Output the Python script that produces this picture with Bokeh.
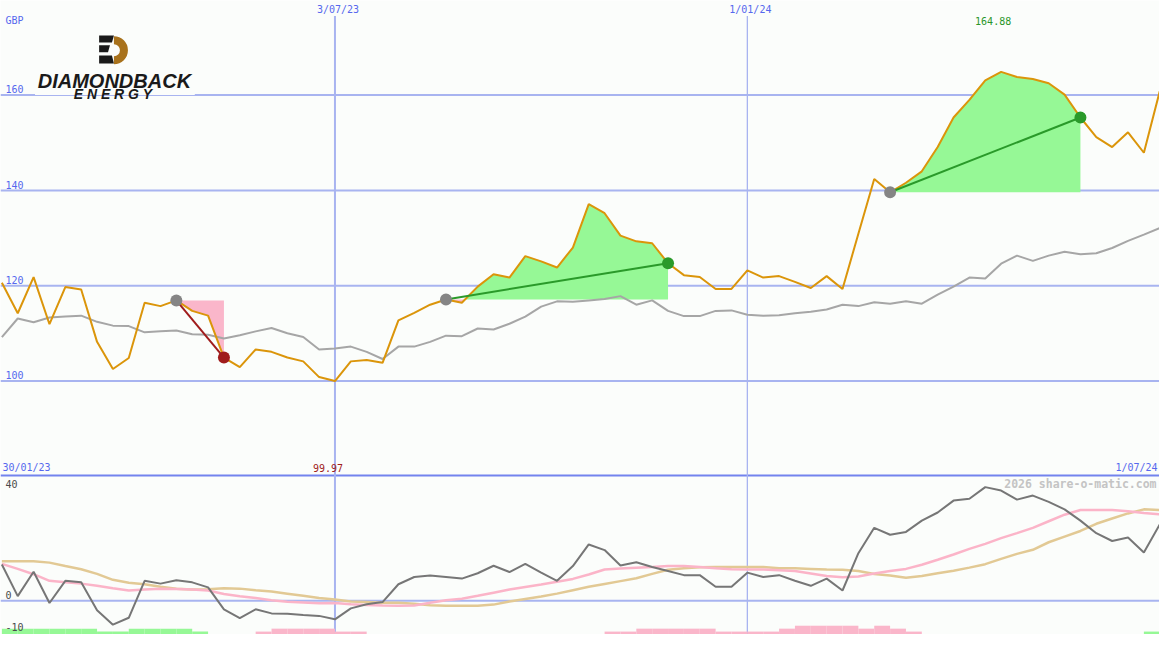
import numpy as np
from bokeh.plotting import figure
from bokeh.models import Range1d, Label, Span
from bokeh.embed import file_html
from bokeh.resources import INLINE

# ---------------- data ----------------
date_labels = ["30/01/23", "3/07/23", "1/01/24", "1/07/24"]
date_week = [-1, 21, 47, 73]          # week index of each date label
currency = "GBP"
price_ticks = [100, 120, 140, 160]
osc_ticks = [40, 0, -10]

price = [120.6, 114.2, 121.8, 111.9, 119.7, 119.2, 108.2, 102.5, 104.8, 116.4,
         115.7, 116.9, 114.7, 113.7, 104.9, 102.9, 106.6, 106.1, 104.9, 104.1,
         100.8, 99.97, 104.1, 104.4, 103.8, 112.7, 114.3, 116.0, 117.1, 116.4,
         119.8, 122.4, 121.7, 126.2, 125.1, 123.8, 128.0, 137.1, 135.2, 130.5,
         129.3, 128.9, 124.7, 122.2, 121.8, 119.3, 119.3, 123.2, 121.7, 122.0,
         120.8, 119.5, 122.0, 119.3, 130.9, 142.4, 139.6, 141.6, 144.0, 149.1,
         155.3, 159.0, 163.1, 164.88, 163.8, 163.4, 162.5, 160.1, 155.3, 151.2,
         149.1, 152.2, 147.9, 160.8]

avg = [109.2, 113.1, 112.3, 113.3, 113.5, 113.7, 112.4, 111.6, 111.5, 110.2,
       110.4, 110.6, 109.8, 109.7, 108.9, 109.6, 110.4, 111.1, 110.0, 109.2,
       106.6, 106.8, 107.2, 106.1, 104.6, 107.2, 107.2, 108.2, 109.5, 109.4,
       111.0, 110.8, 112.0, 113.5, 115.6, 116.7, 116.6, 116.9, 117.2, 117.8,
       116.0, 116.9, 114.7, 113.6, 113.6, 114.7, 114.8, 113.9, 113.7, 113.8,
       114.2, 114.5, 115.0, 116.0, 115.7, 116.5, 116.2, 116.7, 116.2, 118.1,
       119.8, 121.7, 121.5, 124.6, 126.3, 125.2, 126.3, 127.1, 126.6, 126.8,
       127.9, 129.4, 130.7, 132.1]

osc_fast = [11.6, 1.5, 9.3, -0.7, 6.4, 5.9, -3.0, -7.6, -5.4, 6.4,
            5.5, 6.6, 5.9, 4.3, -2.7, -5.5, -2.7, -4.0, -4.1, -4.5,
            -4.8, -5.9, -2.4, -1.1, -0.4, 5.3, 7.6, 8.1, 7.6, 7.1,
            8.8, 11.2, 9.2, 11.8, 9.0, 6.4, 11.1, 18.0, 16.2, 11.3,
            12.3, 10.8, 9.5, 8.2, 8.2, 4.5, 4.5, 9.0, 7.6, 8.2,
            6.4, 4.8, 7.1, 3.3, 15.2, 23.3, 21.1, 22.0, 25.6, 28.2,
            32.0, 32.6, 36.3, 35.2, 32.3, 33.6, 31.6, 29.2, 25.6, 21.6,
            19.1, 20.2, 15.4, 24.4]

osc_mid = [11.8, 10.2, 8.5, 6.4, 5.9, 5.5, 4.8, 4.0, 3.3, 3.6,
           3.9, 3.8, 3.6, 3.3, 2.2, 1.5, 0.9, 0.2, -0.3, -0.5,
           -0.8, -0.7, -1.1, -1.3, -1.5, -1.6, -1.5, -0.6, 0.2, 0.7,
           1.6, 2.6, 3.6, 4.4, 5.2, 6.1, 7.0, 8.4, 10.0, 10.3,
           10.6, 10.8, 11.1, 11.1, 10.8, 10.4, 10.1, 10.0, 10.0, 9.8,
           9.5, 8.7, 7.9, 7.5, 7.8, 8.7, 9.5, 10.2, 11.5, 13.1,
           14.8, 16.6, 18.2, 20.0, 21.6, 23.3, 25.4, 27.5, 29.0, 29.0,
           29.0, 28.6, 28.0, 27.6]

osc_slow = [12.6, 12.6, 12.6, 12.2, 11.1, 10.1, 8.6, 6.7, 5.8, 5.3,
            4.5, 3.9, 3.6, 3.7, 4.0, 3.9, 3.4, 3.0, 2.3, 1.6,
            0.9, 0.4, -0.2, -0.4, -0.6, -0.6, -0.9, -1.4, -1.6, -1.6,
            -1.6, -1.2, -0.2, 0.6, 1.4, 2.3, 3.4, 4.5, 5.4, 6.3,
            7.2, 8.6, 9.9, 10.4, 10.7, 10.8, 10.8, 10.8, 10.8, 10.4,
            10.4, 10.2, 10.0, 9.9, 9.5, 8.6, 8.1, 7.4, 7.9, 8.8,
            9.6, 10.6, 11.7, 13.4, 15.0, 16.3, 18.7, 20.5, 22.3, 24.6,
            26.3, 27.9, 29.2, 29.0]

signal = [2, 2, 2, 2, 2, 2, 1, 1, 2, 2,
          2, 2, 1, 0, 0, 0, -1, -2, -2, -2,
          -2, -1, -1, 0, 0, 0, 0, 0, 0, 0,
          0, 0, 0, 0, 0, 0, 0, 0, -1, -1,
          -2, -2, -2, -2, -2, -1, -1, -1, -1, -2,
          -3, -3, -3, -3, -2, -3, -2, -1, 0, 0,
          0, 0, 0, 0, 0, 0, 0, 0, 0, 0,
          0, 0, 1, 0]

trade_entry = [11, 28, 56]
trade_exit = [14, 42, 68]

# ---------------- layout / style ----------------
W, H = 1159, 634
PX0, PXSTEP = 1.4, 16.08          # reference pixel of week 0 and week spacing
PPX = 4.8833                       # reference pixels per price unit
OPX = 3.2125                       # reference pixels per oscillator unit
OSC_ZERO_PX = 615.5
REF_W, REF_H = 1175, 650


def dx(px):
    return (px - PX0) / PXSTEP


def dy(py):
    return 100 + (390 - py) / PPX


BG = "#fbfdfb"
GRID = "#a8b4f0"
SEP = "#7383ee"
BLUE_TXT = "#5668ee"
ORANGE = "#db950a"
AVG_C = "#a6a6a6"
FAST_C = "#767676"
MID_C = "#fbb4c8"
SLOW_C = "#e2c994"
GREEN_FILL = "#96f896"
PINK_FILL = "#fab6ca"
WIN_C = "#2a9a2a"
LOSS_C = "#a01c1c"
ENTRY_C = "#858585"
MONO = "DejaVu Sans Mono"

x_range = Range1d(dx(0), dx(REF_W))
y_range = Range1d(dy(REF_H), dy(0))

p = figure(width=W, height=H, x_range=x_range, y_range=y_range,
           output_backend="svg", toolbar_location=None,
           x_axis_location=None, y_axis_location=None, min_border=0,
           background_fill_color=BG, border_fill_color=BG,
           outline_line_color=None)
p.grid.visible = False
p.extra_y_ranges = {"osc": Range1d(-(REF_H - OSC_ZERO_PX) / OPX, OSC_ZERO_PX / OPX)}

# grid lines
for t in price_ticks:
    p.add_layout(Span(location=t, dimension="width", line_color=GRID,
                      line_width=2, level="underlay"))
p.add_layout(Span(location=0, dimension="width", line_color=GRID,
                  line_width=2, level="underlay", y_range_name="osc"))
p.add_layout(Span(location=osc_ticks[0], dimension="width", line_color=SEP,
                  line_width=2, level="underlay", y_range_name="osc"))

mid_dates = list(zip(date_labels, date_week))[1:-1]
for k, (d, w) in enumerate(mid_dates):
    p.segment(x0=w, y0=dy(16), x1=w, y1=dy(REF_H), line_color=GRID,
              line_width=2 if k == 0 else 1.3)

# trade fills
weeks = np.arange(len(price))
for e, x in zip(trade_entry, trade_exit):
    L = price[e]
    xs, ps = [], []
    for i in range(e, x + 1):
        if i > e:
            a, b = price[i - 1], price[i]
            if (a - L) * (b - L) < 0:
                t = (L - a) / (b - a)
                xs.append(i - 1 + t)
                ps.append(L)
        xs.append(i)
        ps.append(price[i])
    ps = np.array(ps)
    p.varea(x=xs, y1=[L] * len(xs), y2=np.maximum(ps, L), fill_color=GREEN_FILL)
    p.varea(x=xs, y1=np.minimum(ps, L), y2=[L] * len(xs), fill_color=PINK_FILL)

# price lines
p.line(weeks, avg, line_color=AVG_C, line_width=2)
p.line(weeks, price, line_color=ORANGE, line_width=2)

# trade lines and markers
for e, x in zip(trade_entry, trade_exit):
    c = WIN_C if price[x] > price[e] else LOSS_C
    p.line([e, x], [price[e], price[x]], line_color=c, line_width=2)
    p.scatter([e], [price[e]], size=12, fill_color=ENTRY_C, line_color=None)
    p.scatter([x], [price[x]], size=12, fill_color=c, line_color=None)

# oscillator
p.line(weeks, osc_slow, line_color=SLOW_C, line_width=2.5, y_range_name="osc")
p.line(weeks, osc_mid, line_color=MID_C, line_width=2.5, y_range_name="osc")
p.line(weeks, osc_fast, line_color=FAST_C, line_width=2, y_range_name="osc")

osc_bot = p.extra_y_ranges["osc"].start
unit = 3 / OPX
bl, br, bt, bc = [], [], [], []
for i, s in enumerate(signal):
    if s != 0:
        bl.append(i)
        br.append(i + 1)
        bt.append(osc_bot + abs(s) * unit)
        bc.append(GREEN_FILL if s > 0 else PINK_FILL)
p.quad(left=bl, right=br, bottom=osc_bot, top=bt, fill_color=bc,
       line_color=None, y_range_name="osc")

# logo
p.quad(left=dx(35), right=dx(197), bottom=dy(96.8), top=dy(33),
       fill_color=BG, line_color=None)
stripes = [[(100, 36), (115, 36), (113, 43), (100, 43)],
           [(100, 46), (111, 46), (109, 53), (100, 53)],
           [(100, 56.5), (113, 56.5), (115, 64.5), (100, 64.5)]]
p.patches(xs=[[dx(a) for a, b in s] for s in stripes],
          ys=[[dy(b) for a, b in s] for s in stripes],
          fill_color="#1a1a1a", line_color=None)
p.annular_wedge(x=dx(115), y=dy(51), inner_radius=6, outer_radius=14,
                inner_radius_units="screen", outer_radius_units="screen",
                start_angle=-np.pi / 2, end_angle=np.pi / 2,
                fill_color="#a8721c", line_color=None)
p.add_layout(Label(x=dx(115.5), y=dy(83), text="DIAMONDBACK",
                   text_font="Liberation Sans", text_font_style="bold italic",
                   text_font_size="20px", text_color="#1a1a1a",
                   text_align="center", text_baseline="alphabetic"))
p.add_layout(Label(x=dx(114), y=dy(96), text=" ".join("ENERGY"),
                   text_font="Liberation Sans", text_font_style="bold italic",
                   text_font_size="14px", text_color="#1a1a1a",
                   text_align="center", text_baseline="alphabetic"))


def lab(x, y, text, color=BLUE_TXT, align="left", size="10px", style="normal",
        font=MONO, **kw):
    p.add_layout(Label(x=x, y=y, text=text, text_font=font,
                       text_font_size=size, text_color=color,
                       text_font_style=style, text_align=align,
                       text_baseline="middle", **kw))


# axis texts
lab(dx(5), dy(21), currency)
for t in price_ticks:
    lab(dx(5), t + 6 / PPX, str(t))
for t in osc_ticks:
    lab(dx(5), min(t + 5.5 / OPX, osc_ticks[0] - 9 / OPX), str(t),
        color="#4a4a4a", y_range_name="osc")
for d, w in mid_dates:
    lab(w, dy(9), d, align="center", x_offset=3)
lab(dx(2), dy(479), date_labels[0])
lab(dx(1173), dy(479), date_labels[-1], align="right")

imax = int(np.argmax(price))
imin = int(np.argmin(price))
lab(imax, dy(21), f"{price[imax]:.2f}", color="#2a962a", align="center", x_offset=-8)
lab(imin, dy(479), f"{price[imin]:.2f}", color="#a01c1c", align="center", x_offset=-7)
lab(dx(1172), dy(496), "2026 share-o-matic.com", color="#c4c4c4",
    align="right", size="11.5px", style="bold")

open("out.html", "w").write(file_html(p, INLINE))
